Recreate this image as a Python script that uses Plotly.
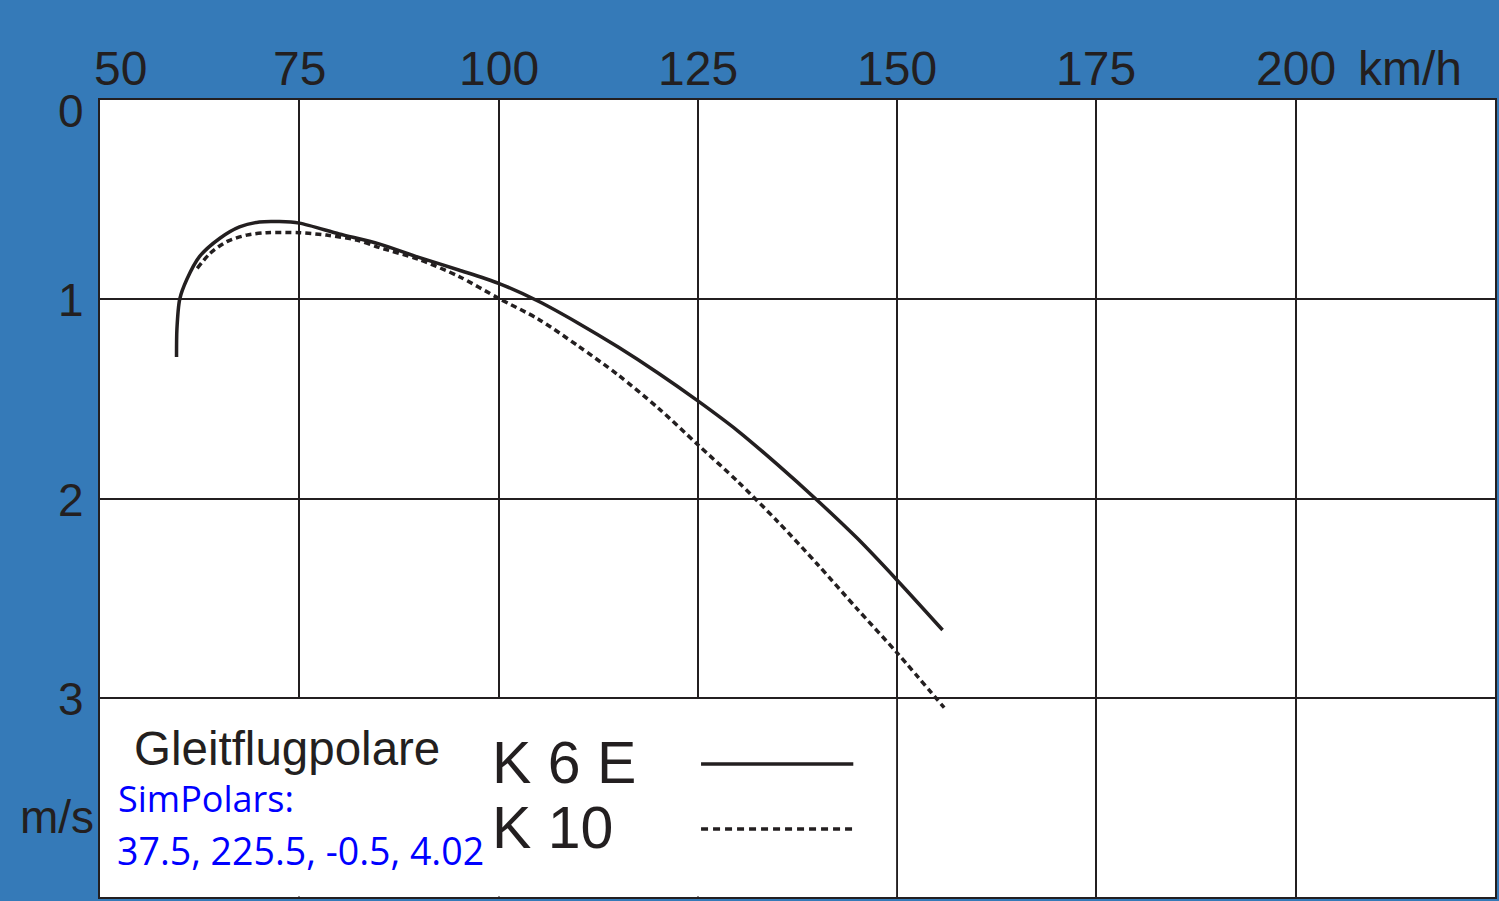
import plotly.graph_objects as go

# ---- data ----
k6e_speed = [59.6, 59.65, 60.0, 60.9, 62.5, 65.0, 67.5, 70.0, 72.5, 75.0, 80.0, 85.0, 90.0, 95.0,
             100.0, 105.0, 110.0, 115.0, 120.0, 125.0, 130.0, 135.0, 140.0, 145.0, 150.0, 155.7]
k6e_sink = [1.29, 1.15, 1.00, 0.90, 0.785, 0.695, 0.637, 0.612, 0.610, 0.618, 0.672, 0.722, 0.79, 0.853,
            0.92, 1.01, 1.12, 1.24, 1.37, 1.51, 1.66, 1.83, 2.01, 2.20, 2.41, 2.66]

k10_speed = [62.2, 63.8, 65.9, 68.4, 70.9, 75.0, 78.4, 82.2, 85.0, 90.0, 95.0, 100.0, 105.0, 110.0,
             115.0, 120.0, 125.0, 130.0, 135.0, 140.0, 145.0, 150.0, 155.9]
k10_sink = [0.845, 0.77, 0.711, 0.678, 0.666, 0.666, 0.678, 0.703, 0.74, 0.80, 0.885, 0.995, 1.10, 1.235,
            1.38, 1.545, 1.73, 1.915, 2.115, 2.33, 2.555, 2.775, 3.05]

x_tick_vals = [50, 75, 100, 125, 150, 175, 200]
x_tick_text = ["50", "75", "100", "125", "150", "175", "200"]
y_tick_vals = [0, 1, 2, 3]
y_tick_text = ["0", "1", "2", "3"]
x_unit = "km/h"
y_unit = "m/s"
title_text = "Gleitflugpolare"
sim_label = "SimPolars:"
sim_values = "37.5, 225.5, -0.5, 4.02"
series_names = ["K 6 E", "K 10"]

INK = "#231f20"
BLUE_BG = "#357ab8"
TICK_FONT = dict(family="Liberation Sans, Arial, sans-serif", size=48, color=INK)

fig = go.Figure()
fig.add_trace(go.Scatter(x=k6e_speed, y=k6e_sink, mode="lines", name=series_names[0],
                         line=dict(color=INK, width=3.5, shape="spline", smoothing=0.8),
                         showlegend=False))
fig.add_trace(go.Scatter(x=k10_speed, y=k10_sink, mode="lines", name=series_names[1],
                         line=dict(color=INK, width=3.5, dash="6px,4px", shape="spline", smoothing=0.8),
                         showlegend=False))

ann = []
# x tick labels above the plot
for v, t in zip(x_tick_vals, x_tick_text):
    if v == x_tick_vals[0]:
        ann.append(dict(x=v, y=1, xref="x", yref="paper", text=t, showarrow=False,
                        xanchor="left", yanchor="middle", xshift=-8, yshift=32, font=TICK_FONT))
    else:
        ann.append(dict(x=v, y=1, xref="x", yref="paper", text=t, showarrow=False,
                        xanchor="center", yanchor="middle", yshift=32, font=TICK_FONT))
ann.append(dict(x=207.6, y=1, xref="x", yref="paper", text=x_unit, showarrow=False,
                xanchor="left", yanchor="middle", yshift=32, font=TICK_FONT))
# y tick labels
for v, t in zip(y_tick_vals, y_tick_text):
    ann.append(dict(x=0, y=v, xref="paper", yref="y", text=t, showarrow=False,
                    xanchor="right", yanchor="middle", xshift=-14,
                    yshift=(-11 if v == 0 else -1), font=dict(TICK_FONT, size=46)))
ann.append(dict(x=0, y=3.60, xref="paper", yref="y", text=y_unit, showarrow=False,
                xanchor="right", yanchor="middle", xshift=-4, font=dict(TICK_FONT, size=46)))
# legend block texts
ann.append(dict(x=54.0, y=3.255, xref="x", yref="y", text=title_text, showarrow=False,
                xanchor="left", yanchor="middle", font=dict(TICK_FONT, size=47.5)))
ann.append(dict(x=52.0, y=3.506, xref="x", yref="y", text=sim_label, showarrow=False,
                xanchor="left", yanchor="middle",
                font=dict(family="Open Sans, sans-serif", size=36, color="#0000ff")))
ann.append(dict(x=51.9, y=3.767, xref="x", yref="y", text=sim_values, showarrow=False,
                xanchor="left", yanchor="middle",
                font=dict(family="Open Sans, sans-serif", size=37.5, color="#0000ff")))
ann.append(dict(x=98.9, y=3.327, xref="x", yref="y", text=series_names[0], showarrow=False,
                xanchor="left", yanchor="middle", font=dict(TICK_FONT, size=59)))
ann.append(dict(x=98.9, y=3.653, xref="x", yref="y", text=series_names[1], showarrow=False,
                xanchor="left", yanchor="middle", font=dict(TICK_FONT, size=59)))

shapes = [
    # white legend panel hiding the grid in the lower-left cells
    dict(type="rect", xref="x", yref="y", x0=50.16, x1=149.87, y0=3.006, y1=3.997,
         line=dict(width=0), fillcolor="white", layer="above"),
    dict(type="line", xref="x", yref="y", x0=125.4, x1=144.5, y0=3.332, y1=3.332,
         line=dict(color=INK, width=3.5)),
    dict(type="line", xref="x", yref="y", x0=125.4, x1=144.5, y0=3.659, y1=3.659,
         line=dict(color=INK, width=3.5, dash="7px,5px")),
]

fig.update_layout(
    width=1499, height=901,
    margin=dict(l=100, r=2, t=100, b=4, pad=0),
    paper_bgcolor=BLUE_BG, plot_bgcolor="white",
    annotations=ann, shapes=shapes, showlegend=False,
    xaxis=dict(range=[50, 225], tickvals=x_tick_vals, showticklabels=False, ticks="",
               showgrid=True, gridcolor=INK, gridwidth=2, zeroline=False,
               showline=True, mirror=True, linecolor=INK, linewidth=2, fixedrange=True),
    yaxis=dict(range=[4, 0], tickvals=y_tick_vals, showticklabels=False, ticks="",
               showgrid=True, gridcolor=INK, gridwidth=2, zeroline=False,
               showline=True, mirror=True, linecolor=INK, linewidth=2, fixedrange=True),
)

fig.write_html("out.html", config={"displayModeBar": False},
               post_script="document.body.style.margin='0';document.body.style.overflow='hidden';")
